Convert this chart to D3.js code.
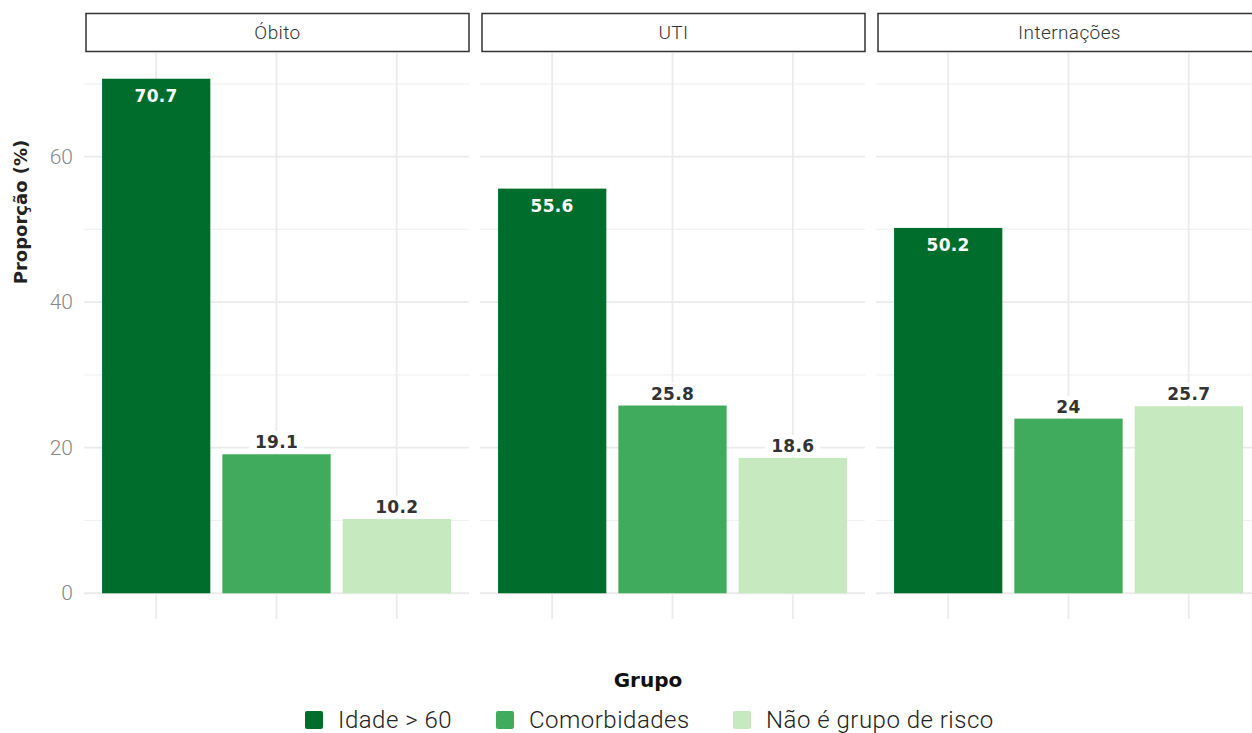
<!DOCTYPE html>
<html>
<head>
<meta charset="utf-8">
<script src="https://cdn.jsdelivr.net/npm/d3@7"></script>
<style>
  body { margin: 0; background: #fff; }
  svg { display: block; }
  .thin { font-family: Roboto, "Liberation Sans", sans-serif; font-weight: 300; }
  .lbl  { font-family: "DejaVu Sans", sans-serif; font-weight: bold; }
</style>
</head>
<body>
<div id="chart"></div>
<script>
// ── Data ─────────────────────────────────────────────
const facets = ['Óbito', 'UTI', 'Internações'];
const groups = ['Idade > 60', 'Comorbidades', 'Não é grupo de risco'];
const obito       = [70.7, 19.1, 10.2];
const uti         = [55.6, 25.8, 18.6];
const internacoes = [50.2, 24.0, 25.7];
const yTicks      = [0, 20, 40, 60];
const yMinorTicks = [10, 30, 50, 70];
const colors      = ['#006d2c', '#41ab5d', '#c7e9c0'];

const facetValues = [obito, uti, internacoes];

// ── Layout ───────────────────────────────────────────
const W = 1252, H = 733;
const panelTop = 53, panelBottom = 619;
const panelX0 = [84, 480, 876];
const panelW = 385;

const svg = d3.select('#chart').append('svg')
  .attr('width', W).attr('height', H);

const maxVal = d3.max(facetValues.flat());
const y = d3.scaleLinear()
  .domain([-maxVal * 0.05, maxVal * 1.05])
  .range([panelBottom, panelTop]);

const x = d3.scaleBand()
  .domain(groups)
  .range([0, panelW])
  .paddingInner(0.1)
  .paddingOuter(0.15);

const color = d3.scaleOrdinal().domain(groups).range(colors);

facets.forEach((f, fi) => {
  const g = svg.append('g').attr('transform', `translate(${panelX0[fi]},0)`);
  const vals = facetValues[fi];

  // minor + major horizontal grid
  g.selectAll('.minor').data(yMinorTicks).join('line')
    .attr('x1', 0).attr('x2', panelW)
    .attr('y1', d => y(d)).attr('y2', d => y(d))
    .attr('stroke', '#f2f2f2').attr('stroke-width', 1.2);
  g.selectAll('.major').data(yTicks).join('line')
    .attr('x1', 0).attr('x2', panelW)
    .attr('y1', d => y(d)).attr('y2', d => y(d))
    .attr('stroke', '#ebebeb').attr('stroke-width', 1.8);

  // vertical grid at categories
  g.selectAll('.vgrid').data(groups).join('line')
    .attr('x1', d => x(d) + x.bandwidth() / 2).attr('x2', d => x(d) + x.bandwidth() / 2)
    .attr('y1', panelTop).attr('y2', panelBottom)
    .attr('stroke', '#ebebeb').attr('stroke-width', 1.8);

  // bars
  g.selectAll('.bar').data(groups).join('rect')
    .attr('x', d => x(d)).attr('width', x.bandwidth())
    .attr('y', (d, i) => y(vals[i]))
    .attr('height', (d, i) => y(0) - y(vals[i]))
    .attr('fill', d => color(d));

  // labels: first group inside (white), others above with white backing
  groups.forEach((gr, i) => {
    const cx = x(gr) + x.bandwidth() / 2;
    const v = vals[i];
    const txt = d3.format('~g')(v);
    if (i === 0) {
      g.append('text').attr('class', 'lbl')
        .attr('x', cx).attr('y', y(v) + 23)
        .attr('text-anchor', 'middle').attr('font-size', 17)
        .attr('letter-spacing', 0.3)
        .attr('fill', '#ffffff').text(txt);
    } else {
      const t = g.append('text').attr('class', 'lbl')
        .attr('x', cx).attr('y', y(v) - 6)
        .attr('text-anchor', 'middle').attr('font-size', 17)
        .attr('letter-spacing', 0.3)
        .attr('fill', '#333333').text(txt);
      const bb = t.node().getBBox();
      g.insert('rect', 'text')
        .attr('x', bb.x - 6).attr('y', bb.y - 1)
        .attr('width', bb.width + 12).attr('height', bb.height + 2)
        .attr('fill', '#ffffff');
    }
  });

  // strip
  g.append('rect')
    .attr('x', 2).attr('y', 13.5)
    .attr('width', panelW - 2).attr('height', 38)
    .attr('fill', '#ffffff').attr('stroke', '#333333').attr('stroke-width', 1.5);
  g.append('text').attr('class', 'thin')
    .attr('x', panelW / 2 + 1).attr('y', 39)
    .attr('text-anchor', 'middle').attr('font-size', 19)
    .attr('letter-spacing', 0.4)
    .attr('fill', '#333333').text(f);
});

// y axis labels
svg.selectAll('.ytick').data(yTicks).join('text')
  .attr('class', 'thin')
  .attr('x', 73).attr('y', d => y(d) + 7)
  .attr('text-anchor', 'end').attr('font-size', 21)
  .attr('fill', '#888888').text(d => d);

// y title
svg.append('text')
  .attr('class', 'lbl')
  .attr('transform', 'translate(27,212) rotate(-90)')
  .attr('text-anchor', 'middle').attr('font-size', 18)
  .attr('fill', '#222222').text('Proporção (%)');

// legend title
svg.append('text')
  .attr('class', 'lbl')
  .attr('x', 648).attr('y', 687)
  .attr('text-anchor', 'middle').attr('font-size', 20)
  .attr('fill', '#111111').text('Grupo');

// legend items
const legendX = [305, 496, 733];
groups.forEach((gr, i) => {
  svg.append('rect')
    .attr('x', legendX[i]).attr('y', 711)
    .attr('width', 18).attr('height', 18).attr('rx', 2)
    .attr('fill', color(gr));
  svg.append('text').attr('class', 'thin')
    .attr('x', legendX[i] + 33).attr('y', 728)
    .attr('font-size', 24).attr('letter-spacing', 0.5)
    .attr('fill', '#222222').text(gr);
});
</script>
</body>
</html>
